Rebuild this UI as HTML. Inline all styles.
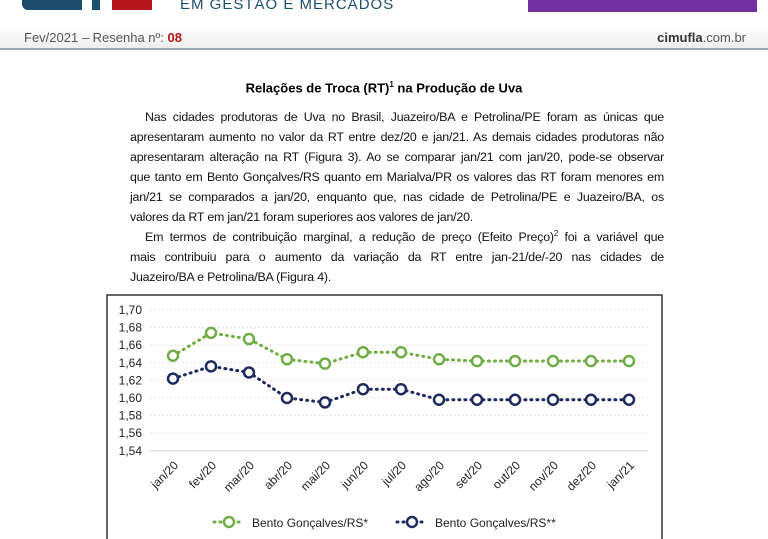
<!DOCTYPE html>
<html><head><meta charset="utf-8"><style>
body{margin:0;width:768px;height:539px;overflow:hidden;background:#fff;font-family:"Liberation Sans",sans-serif;position:relative}
.abs{position:absolute}
.l{font-size:12.4px;line-height:20px;height:20px;text-align:justify;text-align-last:justify;color:#111;letter-spacing:-0.2px;white-space:nowrap;overflow:visible}
.l.i{padding-left:15px}
.l.e{text-align-last:left}
</style></head><body>
<div class="abs" style="left:22px;top:0;width:130px;height:12px">
 <div class="abs" style="left:0;top:0;width:60px;height:10px;background:#1d4e6e;border-radius:0 0 0 6px"></div>
 <div class="abs" style="left:70px;top:0;width:8px;height:10px;background:#1d4e6e"></div>
 <div class="abs" style="left:90px;top:0;width:40px;height:10px;background:#b3171b"></div>
</div>
<div class="abs" style="left:180px;top:-4px;font-size:15px;letter-spacing:1px;color:#1d4e6e">EM GESTÃO E MERCADOS</div>
<div class="abs" style="left:528px;top:0;width:229px;height:12px;background:#7030a0"></div>
<div class="abs" style="left:0;top:26px;width:768px;height:22px;background:linear-gradient(#fff,#eee);border-bottom:2px solid #9aa8b4"></div>
<div class="abs" style="left:24px;top:30px;font-size:13px;color:#555">Fev/2021 – Resenha nº: <b style="color:#b3171b">08</b></div>
<div class="abs" style="right:22px;top:30px;font-size:13px;color:#555"><b style="color:#333">cimufla</b>.com.br</div>
<div class="abs" style="left:0;width:768px;top:80px;text-align:center;font-size:13px;font-weight:bold">Relações de Troca (RT)<sup style="font-size:8px">1</sup> na Produção de Uva</div>
<div class="abs" style="left:130px;top:107px;width:534px">
<div class="l i">Nas cidades produtoras de Uva no Brasil, Juazeiro/BA e Petrolina/PE foram as únicas que</div>
<div class="l">apresentaram aumento no valor da RT entre dez/20 e jan/21. As demais cidades produtoras não</div>
<div class="l">apresentaram alteração na RT (Figura 3). Ao se comparar jan/21 com jan/20, pode-se observar</div>
<div class="l">que tanto em Bento Gonçalves/RS quanto em Marialva/PR os valores das RT foram menores em</div>
<div class="l">jan/21 se comparados a jan/20, enquanto que, nas cidade de Petrolina/PE e Juazeiro/BA, os</div>
<div class="l e">valores da RT em jan/21 foram superiores aos valores de jan/20.</div>
<div class="l i">Em termos de contribuição marginal, a redução de preço (Efeito Preço)<sup style="font-size:8px;line-height:0">2</sup> foi a variável que</div>
<div class="l">mais contribuiu para o aumento da variação da RT entre jan-21/de/-20 nas cidades de</div>
<div class="l e">Juazeiro/BA e Petrolina/BA (Figura 4).</div>
</div>
<svg class="abs" style="left:0;top:0" width="768" height="539">
<rect x="107" y="295" width="555" height="260" fill="#fff" stroke="#333" stroke-width="1.5"/>
<g id="g"></g>
</svg>
<script>
const categories=["jan/20","fev/20","mar/20","abr/20","mai/20","jun/20","jul/20","ago/20","set/20","out/20","nov/20","dez/20","jan/21"];
const seriesA=[1.648,1.674,1.667,1.644,1.639,1.652,1.652,1.644,1.642,1.642,1.642,1.642,1.642];
const seriesB=[1.622,1.636,1.629,1.600,1.595,1.610,1.610,1.598,1.598,1.598,1.598,1.598,1.598];
const yTicks=["1,70","1,68","1,66","1,64","1,62","1,60","1,58","1,56","1,54"];
const ns="http://www.w3.org/2000/svg",g=document.getElementById('g');
const x=i=>173+i*38, y=v=>310+(1.70-v)/0.02*17.6;
function el(t,a){const e=document.createElementNS(ns,t);for(const k in a)e.setAttribute(k,a[k]);g.appendChild(e);return e;}
yTicks.forEach(t=>{const v=parseFloat(t.replace(',','.'));const yy=y(v);
 const l=el('line',{x1:150,x2:648,y1:yy,y2:yy,stroke:v===1.54?'#ccc':'#e4e4e4','stroke-dasharray':v===1.54?'':'2 2'});
 
 const tx=el('text',{x:142,y:yy+4,'text-anchor':'end','font-size':12,fill:'#222'});tx.textContent=t;
 });
categories.forEach((c,i)=>{const tx=el('text',{x:x(i)+6,y:466,'text-anchor':'end','font-size':12,fill:'#222',transform:`rotate(-45 ${x(i)+6} 466)`});tx.textContent=c;
 });
function series(d,col,name){
 const p=el('polyline',{points:d.map((v,i)=>x(i)+','+y(v)).join(' '),fill:'none',stroke:col,'stroke-width':3,'stroke-dasharray':'1 5','stroke-linecap':'round'});
 
 d.forEach((v,i)=>{const c=el('circle',{cx:x(i),cy:y(v),r:5,fill:'#fff',stroke:col,'stroke-width':2.5});
 });}
series(seriesA,'#70ad47','series-a');series(seriesB,'#1f2a5e','series-b');
function legend(lx,col,label,name){
 const l=el('line',{x1:lx,x2:lx+30,y1:522,y2:522,stroke:col,'stroke-width':3,'stroke-dasharray':'1 5','stroke-linecap':'round'});
 
 const c=el('circle',{cx:lx+15,cy:522,r:5,fill:'#fff',stroke:col,'stroke-width':2.5});
 
 const t=el('text',{x:lx+38,y:527,'font-size':12,fill:'#222'});t.textContent=label;
 }
legend(214,'#70ad47','Bento Gonçalves/RS*','legend-entry-a');
legend(397,'#1f2a5e','Bento Gonçalves/RS**','legend-entry-b');
</script>
</body></html>
